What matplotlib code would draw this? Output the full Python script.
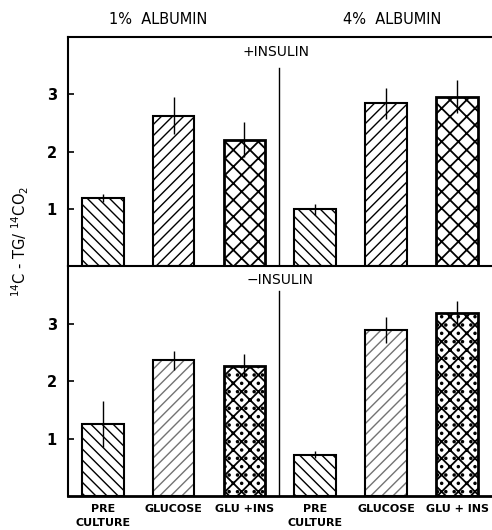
import numpy as np
import matplotlib.pyplot as plt

plt.rcParams['font.family'] = ['DejaVu Sans']
plt.rcParams['hatch.linewidth'] = 1.0

categories = ['PRE\nCULTURE', 'GLUCOSE', 'GLU +INS', 'PRE\nCULTURE', 'GLUCOSE', 'GLU + INS']
albumin_labels = ['1%  ALBUMIN', '4%  ALBUMIN']
panel_labels = ['+INSULIN', '\u2212INSULIN']

# +insulin panel (1% albumin: 3 bars, 4% albumin: 3 bars)
plus_ins = [1.19, 2.63, 2.21, 0.99, 2.84, 2.96]
plus_ins_err = [0.07, 0.33, 0.30, 0.10, 0.27, 0.29]
# -insulin panel
minus_ins = [1.26, 2.36, 2.27, 0.72, 2.89, 3.19]
minus_ins_err = [0.40, 0.16, 0.20, 0.06, 0.22, 0.20]

yticks = [1, 2, 3]


def draw_panel(ax, values, errors, hatches, colors, divider_top):
    x = np.arange(len(values))
    for i in range(len(values)):
        lw = 2.0 if i % 3 == 2 else 1.5
        hlw = 1.3 if i % 3 == 2 else 1.0
        with plt.rc_context({'hatch.linewidth': hlw}):
            ax.bar(x[i], values[i], width=0.59, color='white', edgecolor=colors[i],
                   hatch=hatches[i], linewidth=0, zorder=2)
        ax.bar(x[i], values[i], width=0.59, fill=False, edgecolor='black',
               linewidth=lw, zorder=3)
    ax.errorbar(x, values, yerr=errors, fmt='none', ecolor='black',
                elinewidth=1.0, capsize=0, zorder=4)
    ax.plot([2.48, 2.48], [0, divider_top], color='black', lw=1.0, zorder=1)
    ax.set_xlim(-0.49, 5.49)
    ax.set_ylim(0, 4.0)
    ax.set_yticks(yticks)
    ax.tick_params(axis='y', direction='in', length=4, width=1.2, labelsize=10.5, pad=8)
    for lab in ax.get_yticklabels():
        lab.set_fontweight('bold')
    ax.spines['right'].set_visible(False)
    ax.spines['left'].set_linewidth(1.5)
    ax.spines['bottom'].set_linewidth(2.0)
    ax.spines['top'].set_linewidth(1.5)


fig = plt.figure(figsize=(4.92, 5.30), dpi=100)
ax_top = fig.add_axes([0.138, 0.498, 0.862, 0.432])
ax_bot = fig.add_axes([0.138, 0.064, 0.862, 0.434])

draw_panel(ax_top, plus_ins, plus_ins_err,
           ['\\\\\\', '///', 'xx', '\\\\\\', '///', 'xx'],
           ['black'] * 6, 3.46)
draw_panel(ax_bot, minus_ins, minus_ins_err,
           ['\\\\\\', '///', 'xx..', '\\\\\\', '///', 'xx..'],
           ['black', '0.45', 'black', 'black', '0.45', 'black'], 3.56)

ax_top.set_xticks([])
ax_bot.set_xticks(np.arange(len(categories)))
ax_bot.set_xticklabels(categories, fontsize=8, fontweight='bold', linespacing=1.5)
ax_bot.tick_params(axis='x', length=0, pad=6)

ax_top.text(0.49, 0.935, panel_labels[0], transform=ax_top.transAxes,
            ha='center', va='center', fontsize=10)
ax_bot.text(0.5, 0.94, panel_labels[1], transform=ax_bot.transAxes,
            ha='center', va='center', fontsize=10)

fig.text(158 / 492, 1 - 20 / 530, albumin_labels[0], ha='center', va='center', fontsize=10.5)
fig.text(392 / 492, 1 - 20 / 530, albumin_labels[1], ha='center', va='center', fontsize=10.5)
fig.text(20 / 492, 1 - 241 / 530, r'$^{14}$C - TG/ $^{14}$CO$_2$', rotation=90,
         ha='center', va='center', fontsize=10.5)

fig.savefig('out.png', dpi=100)
